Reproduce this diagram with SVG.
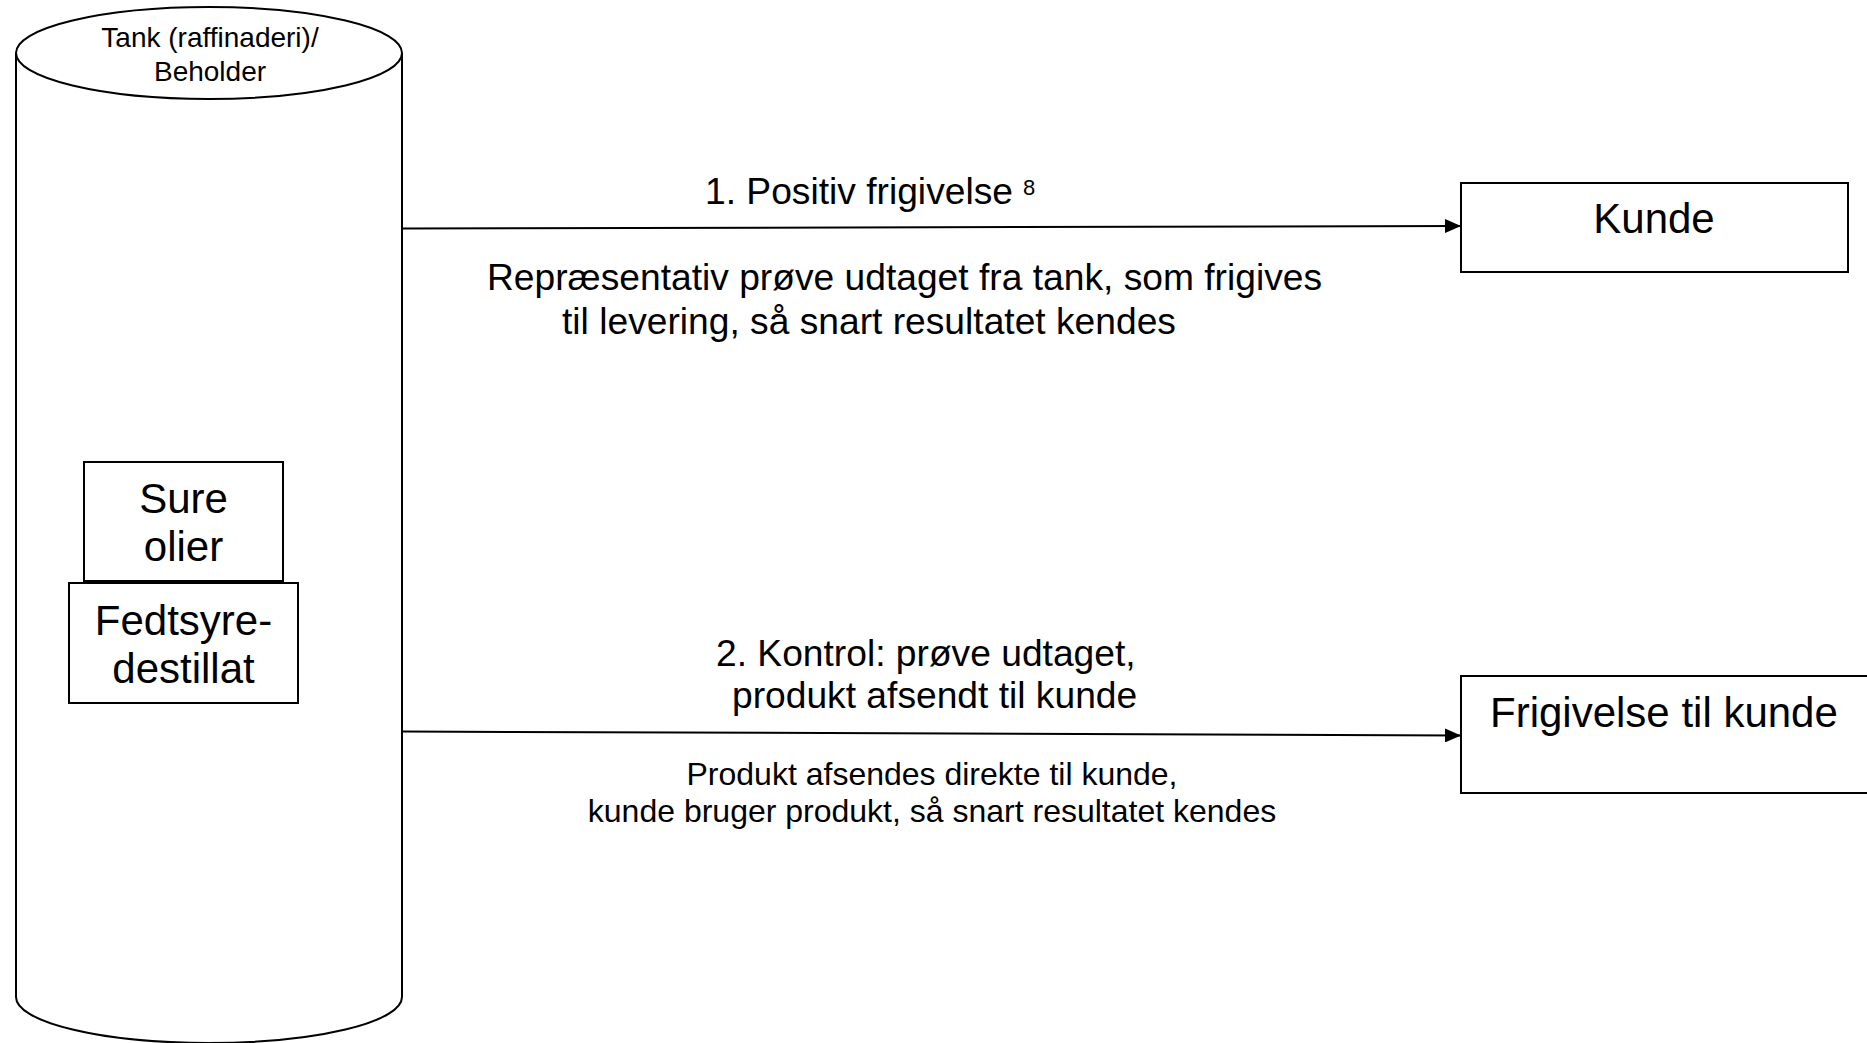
<svg xmlns="http://www.w3.org/2000/svg" width="1867" height="1043" viewBox="0 0 1867 1043">
<defs>
<style>
.shape{fill:#fff;stroke:#000;stroke-width:2}
.t{font-family:"Liberation Sans",Arial,sans-serif;fill:#000}
.big{font-size:42px}
.mid{font-size:37.2px}
.small{font-size:32px}
.tank{font-size:28px}
.conn{stroke:#000;stroke-width:2;fill:none}
</style>
<marker id="arr" viewBox="0 0 16 14" refX="16" refY="7" markerWidth="16" markerHeight="14" markerUnits="userSpaceOnUse" orient="auto">
<path d="M0,0 L16,7 L0,14 Z" fill="#000"/>
</marker>
</defs>
<rect width="1867" height="1043" fill="#fff"/>
<g id="tank">
<path class="shape" d="M16,53 L16,997 A193,46 0 0 0 402,997 L402,53"/>
<ellipse class="shape" cx="209" cy="53" rx="193" ry="46"/>
<text class="t tank" x="210" y="47" text-anchor="middle">Tank (raffinaderi)/</text>
<text class="t tank" x="210" y="81" text-anchor="middle">Beholder</text>
</g>
<g id="sure-olier">
<rect class="shape" x="84" y="462" width="199" height="119"/>
<text class="t big" x="183.5" y="513" text-anchor="middle">Sure</text>
<text class="t big" x="183.5" y="561" text-anchor="middle">olier</text>
</g>
<g id="fedtsyre">
<rect class="shape" x="69" y="583" width="229" height="120"/>
<text class="t big" x="183.5" y="635" text-anchor="middle">Fedtsyre-</text>
<text class="t big" x="183.5" y="683" text-anchor="middle">destillat</text>
</g>
<g id="kunde">
<rect class="shape" x="1461" y="183" width="387" height="89"/>
<text class="t big" x="1654" y="233" text-anchor="middle">Kunde</text>
</g>
<g id="frigivelse">
<rect class="shape" x="1461" y="676" width="420" height="117"/>
<text class="t big" x="1490" y="727">Frigivelse til kunde</text>
</g>
<g id="connectors">
<line class="conn" x1="403" y1="228.5" x2="1461" y2="226" marker-end="url(#arr)"/>
<line class="conn" x1="403" y1="731.5" x2="1461" y2="735.5" marker-end="url(#arr)"/>
</g>
<g id="labels">
<text class="t mid" x="705" y="204">1. Positiv frigivelse</text>
<text class="t" font-size="22" x="1023" y="195">8</text>
<text class="t mid" x="487" y="290">Repræsentativ prøve udtaget fra tank, som frigives</text>
<text class="t mid" x="562" y="334">til levering, så snart resultatet kendes</text>
<text class="t mid" x="716" y="666">2. Kontrol: prøve udtaget,</text>
<text class="t mid" x="732" y="708">produkt afsendt til kunde</text>
<text class="t small" x="932" y="785" text-anchor="middle">Produkt afsendes direkte til kunde,</text>
<text class="t small" x="932" y="822" text-anchor="middle">kunde bruger produkt, så snart resultatet kendes</text>
</g>
</svg>
